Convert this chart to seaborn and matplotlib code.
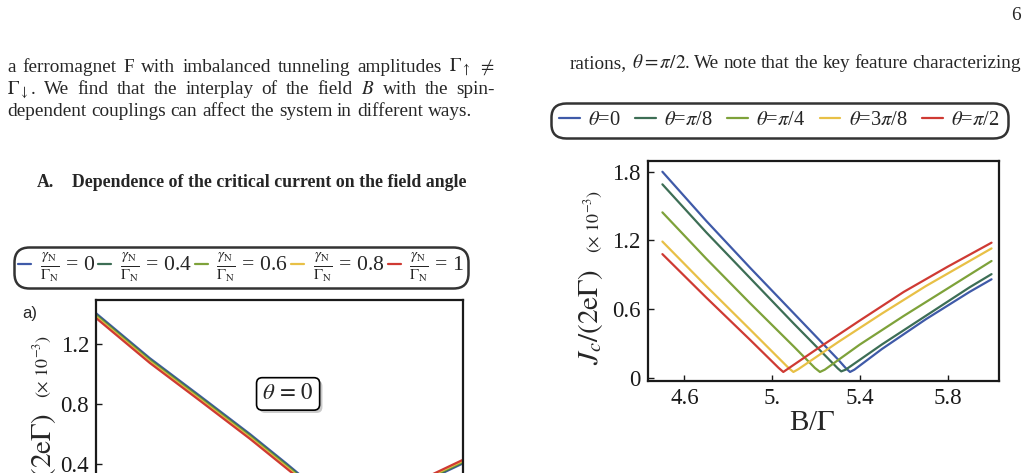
import matplotlib
matplotlib.use("Agg")
import matplotlib.pyplot as plt
import matplotlib.patheffects as pe
from matplotlib.lines import Line2D
import pandas as pd
import seaborn as sns

# right panel: critical current vs field for several field angles
theta_labels = [r"$\theta$=0", r"$\theta$=$\pi$/8", r"$\theta$=$\pi$/4",
                r"$\theta$=3$\pi$/8", r"$\theta$=$\pi$/2"]
b_t0 = [4.5, 4.7, 4.9, 5.1, 5.3, 5.335, 5.355, 5.375, 5.5, 5.7, 5.9, 6.0]
jc_t0 = [1.80, 1.37, 0.96, 0.56, 0.16, 0.085, 0.05, 0.07, 0.25, 0.51, 0.75, 0.86]
b_t1 = [4.5, 4.7, 4.9, 5.1, 5.3, 5.315, 5.335, 5.5, 5.7, 5.9, 6.0]
jc_t1 = [1.69, 1.27, 0.87, 0.47, 0.08, 0.055, 0.07, 0.29, 0.54, 0.79, 0.905]
b_t2 = [4.5, 4.7, 4.9, 5.1, 5.195, 5.218, 5.24, 5.4, 5.6, 5.8, 6.0]
jc_t2 = [1.445, 1.04, 0.65, 0.27, 0.085, 0.05, 0.07, 0.29, 0.54, 0.78, 1.02]
b_t3 = [4.5, 4.7, 4.9, 5.075, 5.097, 5.12, 5.3, 5.5, 5.7, 5.9, 6.0]
jc_t3 = [1.19, 0.80, 0.42, 0.085, 0.05, 0.075, 0.31, 0.56, 0.80, 1.02, 1.13]
b_t4 = [4.5, 4.7, 4.9, 5.03, 5.051, 5.07, 5.2, 5.4, 5.6, 5.8, 6.0]
jc_t4 = [1.08, 0.70, 0.33, 0.085, 0.05, 0.075, 0.245, 0.50, 0.75, 0.97, 1.18]

# left panel (theta = 0), several gamma_N / Gamma_N
gamma_labels = [r"$\frac{\gamma_{\rm N}}{\Gamma_{\rm N}}$ = 0",
                r"$\frac{\gamma_{\rm N}}{\Gamma_{\rm N}}$ = 0.4",
                r"$\frac{\gamma_{\rm N}}{\Gamma_{\rm N}}$ = 0.6",
                r"$\frac{\gamma_{\rm N}}{\Gamma_{\rm N}}$ = 0.8",
                r"$\frac{\gamma_{\rm N}}{\Gamma_{\rm N}}$ = 1"]
b_left = [4.5, 4.72, 4.925, 5.13, 5.28, 5.5, 5.56, 5.8, 6.0]
jc_g0 = [1.405, 1.105, 0.853, 0.598, 0.400, 0.100, 0.060, 0.250, 0.405]
jc_g1 = [1.397, 1.097, 0.845, 0.590, 0.392, 0.094, 0.060, 0.256, 0.411]
jc_g2 = [1.389, 1.089, 0.837, 0.582, 0.384, 0.088, 0.060, 0.262, 0.417]
jc_g3 = [1.381, 1.081, 0.829, 0.574, 0.376, 0.082, 0.060, 0.268, 0.423]
jc_g4 = [1.373, 1.073, 0.821, 0.566, 0.368, 0.076, 0.060, 0.274, 0.429]

colors = ["#3f5aa8", "#3d6e55", "#7ea23a", "#e8c046", "#cf3a33"]

right_df = pd.concat([pd.DataFrame({"B": x, "Jc": y, "curve": lab})
                      for lab, x, y in zip(theta_labels,
                                           [b_t0, b_t1, b_t2, b_t3, b_t4],
                                           [jc_t0, jc_t1, jc_t2, jc_t3, jc_t4])])
left_df = pd.concat([pd.DataFrame({"B": b_left, "Jc": y, "curve": lab})
                     for lab, y in zip(gamma_labels,
                                       [jc_g0, jc_g1, jc_g2, jc_g3, jc_g4])])

sns.set_theme(style="white")
plt.rcParams["font.family"] = ["Liberation Serif", "DejaVu Serif"]
plt.rcParams["mathtext.fontset"] = "stix"

W, H = 1029, 473
fig = plt.figure(figsize=(W / 100, H / 100), dpi=100)
fig.patch.set_facecolor("white")
renderer = fig.canvas.get_renderer()


def fy(py):
    return 1 - py / H


def put_line(words, x0, x1, py, size, justify=True, **kw):
    texts = [fig.text(0, fy(py), w, fontsize=size, ha="left", va="baseline", **kw)
             for w in words]
    widths = [t.get_window_extent(renderer).width for t in texts]
    if justify:
        gap = (x1 - x0 - sum(widths)) / (len(words) - 1)
    else:
        gap = size * 0.25 * 100 / 72
    pos = x0
    for t, w in zip(texts, widths):
        t.set_x(pos / W)
        pos += w + gap


# body text
BODY = 13.9
put_line(["a", "ferromagnet", "F", "with", "imbalanced", "tunneling",
          "amplitudes", r"$\Gamma_\uparrow$", r"$\neq$"], 7, 495, 71.5, BODY)
put_line([r"$\Gamma_\downarrow$.", "We", "find", "that", "the", "interplay", "of",
          "the", "field", r"$B$", "with", "the", "spin-"], 7, 495, 94, BODY)
put_line("dependent couplings can affect the system in different ways.".split(),
         7, 495, 116.5, BODY, justify=False)
put_line(["rations,", r"$\theta = \pi/2$.", "We", "note", "that", "the", "key",
          "feature", "characterizing"], 570, 1021, 68, BODY)
fig.text(1021 / W, fy(20.5), "6", fontsize=BODY, ha="right", va="baseline")
fig.text(37 / W, fy(187), "A.", fontsize=12.8, fontweight="bold", va="baseline")
fig.text(72 / W, fy(187), "Dependence of the critical current on the field angle",
         fontsize=12.8, fontweight="bold", va="baseline")


def style_axes(ax):
    for s in ax.spines.values():
        s.set_linewidth(1.6)
        s.set_color("#1a1a1a")
    ax.tick_params(direction="in", length=4, width=1, pad=5, labelsize=16.5,
                   colors="#1a1a1a", left=True, bottom=True, top=False, right=False)
    ax.set_xlabel("")
    ax.set_ylabel("")


# right panel
ax_r = fig.add_axes([647.7 / W, fy(381), (999 - 647.7) / W, 220 / H])
sns.lineplot(data=right_df, x="B", y="Jc", hue="curve",
             palette=dict(zip(theta_labels, colors)), estimator=None, sort=True,
             lw=1.6, legend=False, ax=ax_r)
ax_r.set_xlim(4.433, 6.034)
ax_r.set_ylim(-0.029, 1.894)
ax_r.set_xticks([4.6, 5.0, 5.4, 5.8])
ax_r.set_xticklabels(["4.6", "5.", "5.4", "5.8"])
ax_r.set_yticks([0, 0.6, 1.2, 1.8])
ax_r.set_yticklabels(["0", "0.6", "1.2", "1.8"])
style_axes(ax_r)
fig.text(812 / W, fy(430), r"B/$\Gamma$", fontsize=21, ha="center", va="baseline")
fig.text(598 / W, fy(365), r"$J_c/(2\mathrm{e}\Gamma)$", fontsize=21, rotation=90,
         rotation_mode="anchor", ha="left", va="baseline")
fig.text(599 / W, fy(253), r"$(\times\ 10^{-3})$", fontsize=13, rotation=90,
         rotation_mode="anchor", ha="left", va="baseline")

handles = [Line2D([], [], color=c, lw=1.6) for c in colors]
leg_r = fig.legend(handles, theta_labels, loc="center", ncol=5,
                   bbox_to_anchor=(779.5 / W, fy(120.5)), fontsize=14.8,
                   handlelength=1.0, handletextpad=0.4, columnspacing=0.7,
                   borderpad=0.4, frameon=True, fancybox=True)
leg_r.get_frame().set_edgecolor("black")
leg_r.get_frame().set_linewidth(1.8)
leg_r.get_frame().set_boxstyle("round", pad=0.0, rounding_size=0.7)

# left panel (cut off by the page bottom)
ax_l = fig.add_axes([96 / W, fy(528.5), 367.3 / W, 228.5 / H])
sns.lineplot(data=left_df, x="B", y="Jc", hue="curve",
             palette=dict(zip(gamma_labels, colors)), estimator=None, sort=True,
             lw=1.6, legend=False, ax=ax_l)
ax_l.set_xlim(4.5, 6.0)
ax_l.set_ylim(-0.03, 1.493)
ax_l.set_yticks([0, 0.4, 0.8, 1.2])
ax_l.set_yticklabels(["0", "0.4", "0.8", "1.2"])
ax_l.set_xticks([])
style_axes(ax_l)
box = ax_l.text(0.523, 0.589, r"$\theta\,=\,0$", transform=ax_l.transAxes,
                fontsize=16.5, ha="center", va="center",
                bbox=dict(boxstyle="round,pad=0.25", fc="white", ec="black", lw=1.2))
box.get_bbox_patch().set_path_effects([pe.withSimplePatchShadow(offset=(2, -2))])
fig.text(22 / W, fy(318), "a)", fontsize=12, family=["Liberation Sans", "DejaVu Sans"],
         va="baseline")
fig.text(51 / W, fy(413), r"$J_c/(2\mathrm{e}\Gamma)$", fontsize=21, rotation=90,
         rotation_mode="anchor", ha="right", va="baseline")
fig.text(48 / W, fy(398), r"$(\times\ 10^{-3})$", fontsize=13, rotation=90,
         rotation_mode="anchor", ha="left", va="baseline")

leg_l = fig.legend(handles, gamma_labels, loc="center", ncol=5,
                   bbox_to_anchor=(241 / W, fy(267.5)), fontsize=15.6,
                   handlelength=0.6, handletextpad=0.4, columnspacing=0.15,
                   borderpad=0.2, frameon=True, fancybox=True)
leg_l.get_frame().set_edgecolor("black")
leg_l.get_frame().set_linewidth(1.8)
leg_l.get_frame().set_boxstyle("round", pad=0.0, rounding_size=0.7)

fig.savefig("out.png", dpi=100, facecolor="white")
